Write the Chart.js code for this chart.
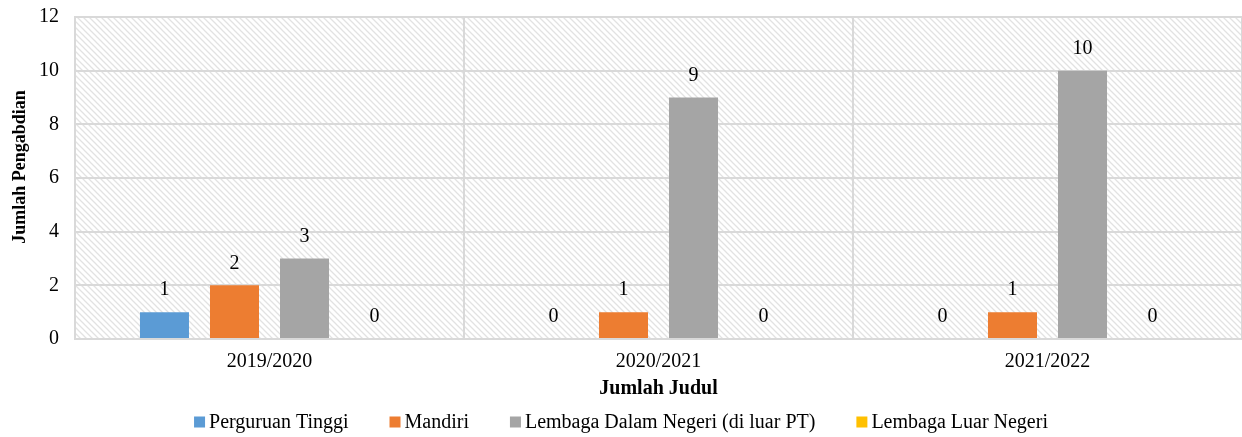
<!DOCTYPE html>
<html>
<head>
<meta charset="utf-8">
<script src="https://cdn.jsdelivr.net/npm/chart.js@4.4.1/dist/chart.umd.min.js"></script>
<style>
    html, body { margin: 0; padding: 0; background: #fff; }
    #wrap { width: 1242px; height: 437px; }
</style>
</head>
<body>
<div id="wrap"><canvas id="chart"></canvas></div>
<script>
// Data
const years = ['2019/2020', '2020/2021', '2021/2022'];
const perguruanTinggi = [1, 0, 0];
const mandiri = [2, 1, 1];
const lembagaDalamNegeri = [3, 9, 10];
const lembagaLuarNegeri = [0, 0, 0];
const yTicks = [0, 2, 4, 6, 8, 10, 12];

const serif = "'Liberation Serif', 'Times New Roman', serif";

// Diagonal hatch used behind the plot
function makeHatch(ctx) {
    const c = document.createElement('canvas');
    c.width = 6;
    c.height = 6;
    const p = c.getContext('2d');
    p.strokeStyle = '#e2e2e2';
    p.lineWidth = 1.3;
    p.beginPath();
    p.moveTo(-1, -1); p.lineTo(7, 7);
    p.moveTo(-1, 5); p.lineTo(1, 7);
    p.moveTo(5, -1); p.lineTo(7, 1);
    p.stroke();
    return ctx.createPattern(c, 'repeat');
}

const hatchPlugin = {
    id: 'hatch',
    beforeDraw(chart) {
        const { ctx, chartArea: a } = chart;
        ctx.save();
        ctx.fillStyle = makeHatch(ctx);
        ctx.fillRect(a.left, a.top, a.right - a.left, a.bottom - a.top);
        ctx.restore();
    }
};

const valueLabels = {
    id: 'valueLabels',
    afterDatasetsDraw(chart) {
        const { ctx } = chart;
        ctx.save();
        ctx.font = '20px ' + serif;
        ctx.fillStyle = '#000';
        ctx.textAlign = 'center';
        ctx.textBaseline = 'middle';
        chart.data.datasets.forEach((ds, i) => {
            chart.getDatasetMeta(i).data.forEach((bar, j) => {
                ctx.fillText(ds.data[j], bar.x, bar.y - 22);
            });
        });
        ctx.restore();
    }
};

// y title and legend drawn by hand so they sit where the reference has them
const extras = {
    id: 'extras',
    afterDraw(chart) {
        const { ctx } = chart;
        ctx.save();
        ctx.fillStyle = '#000';
        ctx.textBaseline = 'middle';

        ctx.save();
        ctx.translate(20, 167);
        ctx.rotate(-Math.PI / 2);
        ctx.textAlign = 'center';
        ctx.font = 'bold 18px ' + serif;
        ctx.fillText('Jumlah Pengabdian', 0, 0);
        ctx.restore();

        ctx.font = '20px ' + serif;
        ctx.textAlign = 'left';
        const box = 11, textGap = 4, itemGap = 41;
        const items = chart.data.datasets.map(ds => ({
            label: ds.label,
            color: ds.backgroundColor,
            w: box + textGap + ctx.measureText(ds.label).width
        }));
        const total = items.reduce((s, it) => s + it.w, 0) + itemGap * (items.length - 1);
        let x = (chart.width - total) / 2;
        const y = 422;
        items.forEach(it => {
            ctx.fillStyle = it.color;
            ctx.fillRect(x, y - box / 2, box, box);
            ctx.fillStyle = '#000';
            ctx.fillText(it.label, x + box + textGap, y + 1);
            x += it.w + itemGap;
        });
        ctx.restore();
    }
};

const ctx = document.getElementById('chart').getContext('2d');
new Chart(ctx, {
    type: 'bar',
    data: {
        labels: years,
        datasets: [
            { label: 'Perguruan Tinggi', data: perguruanTinggi, backgroundColor: '#5B9BD5' },
            { label: 'Mandiri', data: mandiri, backgroundColor: '#ED7D31' },
            { label: 'Lembaga Dalam Negeri (di luar PT)', data: lembagaDalamNegeri, backgroundColor: '#A5A5A5' },
            { label: 'Lembaga Luar Negeri', data: lembagaLuarNegeri, backgroundColor: '#FFC000' }
        ]
    },
    options: {
        responsive: true,
        maintainAspectRatio: false,
        animation: false,
        devicePixelRatio: 1,
        categoryPercentage: 0.72,
        barPercentage: 0.7,
        layout: { padding: { top: 17, right: 0, left: 0, bottom: 36 } },
        plugins: {
            legend: { display: false },
            tooltip: { enabled: false }
        },
        scales: {
            x: {
                afterFit(axis) {
                    axis.height = 62;
                    axis.paddingLeft = 0;
                    axis.paddingRight = 0;
                },
                grid: { color: '#d9d9d9', lineWidth: 2, drawTicks: false, offset: true },
                border: { color: '#d9d9d9', width: 2 },
                ticks: { color: '#000', font: { family: serif, size: 20 }, padding: 11 },
                title: {
                    display: true,
                    text: 'Jumlah Judul',
                    color: '#000',
                    font: { family: serif, size: 20, weight: 'bold' },
                    padding: { top: 0, bottom: 0 }
                }
            },
            y: {
                min: 0,
                max: 12,
                afterBuildTicks(axis) {
                    axis.ticks = yTicks.map(v => ({ value: v }));
                },
                afterFit(axis) {
                    axis.width = 75;
                    axis.paddingTop = 0;
                    axis.paddingBottom = 0;
                },
                grid: { color: '#d9d9d9', lineWidth: 2, drawTicks: false },
                border: { color: '#d9d9d9', width: 2 },
                ticks: { color: '#000', font: { family: serif, size: 20 }, padding: 16 }
            }
        }
    },
    plugins: [hatchPlugin, valueLabels, extras]
});
</script>
</body>
</html>
